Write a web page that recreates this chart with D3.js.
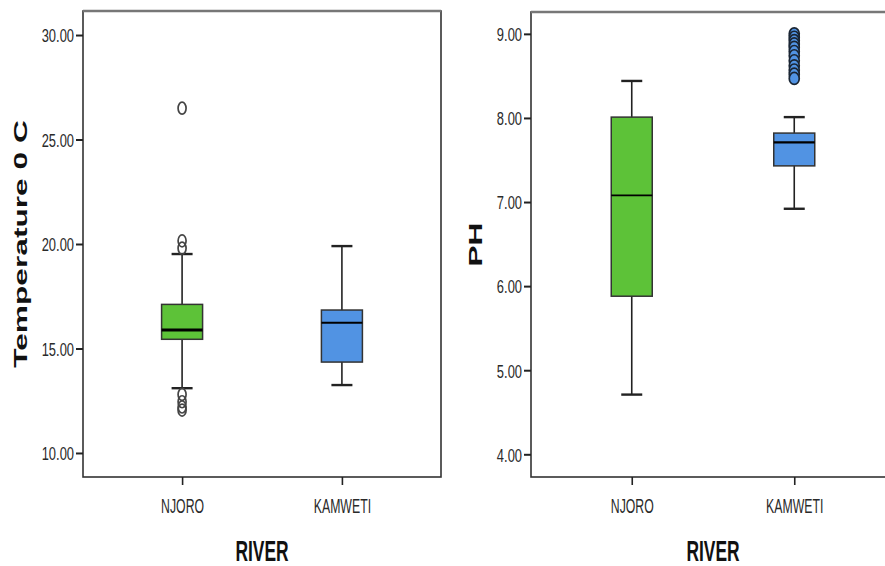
<!DOCTYPE html>
<html>
<head>
<meta charset="utf-8">
<script src="https://cdn.jsdelivr.net/npm/d3@7"></script>
<style>
  body { margin: 0; background: #fff; }
  svg { display: block; }
</style>
</head>
<body>
<div id="chart"></div>
<script>
const rivers = ['NJORO', 'KAMWETI'];

// temperature box stats per river
const tempLow = [13.1, 13.25];
const tempQ1 = [15.44, 14.35];
const tempMedian = [15.89, 16.23];
const tempQ3 = [17.11, 16.84];
const tempHigh = [19.52, 19.9];
const tempOutliers = [[26.5, 20.15, 19.8, 12.8, 12.45, 12.2, 12.05], []];
const tempTicks = [10, 15, 20, 25, 30];

// pH box stats per river
const phLow = [4.71, 6.92];
const phQ1 = [5.88, 7.43];
const phMedian = [7.08, 7.71];
const phQ3 = [8.01, 7.82];
const phHigh = [8.44, 8.01];
const phOutliers = [[], [9.0, 8.96, 8.92, 8.88, 8.84, 8.79, 8.74, 8.68, 8.62, 8.57, 8.52, 8.47]];
const phTicks = [4, 5, 6, 7, 8, 9];

const boxColors = ['#5DC238', '#5193E3'];

const width = 885, height = 566;
const FONT = 'Liberation Sans, Arial, sans-serif';
// the source picture is squashed sideways, so all text gets narrowed
const SQUASH = 0.6;

const svg = d3.select('#chart')
    .append('svg')
    .attr('width', width)
    .attr('height', height);

function narrow(sel, sx) {
    sel.each(function() {
        const t = d3.select(this);
        const x = +t.attr('x') || 0;
        t.attr('x', x / sx).attr('transform', `scale(${sx},1)`);
    });
}

function drawPanel(opts) {
    const { left, right, top, bottom, domain, ticks, low, q1, med, q3, high, outliers, filledOutliers, yLabel, yLabelX, medWidth } = opts;

    const g = svg.append('g');

    const y = d3.scaleLinear().domain(domain).range([bottom, top]);
    const x = d3.scalePoint().domain(rivers).range([left, right]).padding(0.62);
    const boxW = 41, capW = 21;

    // frame
    g.append('rect')
        .attr('x', left).attr('y', top)
        .attr('width', right - left).attr('height', bottom - top)
        .attr('fill', 'none')
        .attr('stroke', '#333')
        .attr('stroke-width', 1.6);
    g.append('line')
        .attr('x1', left).attr('x2', right)
        .attr('y1', top).attr('y2', top)
        .attr('stroke', '#777')
        .attr('stroke-width', 2.6);

    // y axis
    const yAxis = g.append('g')
        .attr('transform', `translate(${left},0)`)
        .call(d3.axisLeft(y).tickValues(ticks).tickSize(7).tickPadding(2).tickFormat(d3.format('.2f')));
    yAxis.select('.domain').remove();
    yAxis.selectAll('.tick line').attr('stroke', '#222').attr('stroke-width', 2);
    yAxis.selectAll('.tick text')
        .attr('font-family', FONT)
        .attr('font-size', 19)
        .attr('fill', '#2a2a2a')
        .attr('dy', '0.36em')
        .call(narrow, 0.68);

    // x axis
    const xAxis = g.append('g')
        .attr('transform', `translate(0,${bottom})`)
        .call(d3.axisBottom(x).tickSize(8));
    xAxis.select('.domain').remove();
    xAxis.selectAll('.tick line').attr('stroke', '#222').attr('stroke-width', 1.6);
    xAxis.selectAll('.tick text')
        .attr('font-family', FONT)
        .attr('font-size', 21)
        .attr('fill', '#2a2a2a')
        .attr('y', 36)
        .attr('dy', 0)
        .call(narrow, 0.585);

    rivers.forEach((r, i) => {
        const cx = x(r);
        const bg = g.append('g');

        // whisker
        bg.append('line')
            .attr('x1', cx).attr('x2', cx)
            .attr('y1', y(high[i])).attr('y2', y(low[i]))
            .attr('stroke', '#222').attr('stroke-width', 1.6);
        [high[i], low[i]].forEach(v => {
            bg.append('line')
                .attr('x1', cx - capW / 2).attr('x2', cx + capW / 2)
                .attr('y1', y(v)).attr('y2', y(v))
                .attr('stroke', '#222').attr('stroke-width', 2.4);
        });

        // box
        bg.append('rect')
            .attr('x', cx - boxW / 2).attr('y', y(q3[i]))
            .attr('width', boxW).attr('height', y(q1[i]) - y(q3[i]))
            .attr('fill', boxColors[i])
            .attr('stroke', '#333').attr('stroke-width', 1.5);

        bg.append('line')
            .attr('x1', cx - boxW / 2).attr('x2', cx + boxW / 2)
            .attr('y1', y(med[i])).attr('y2', y(med[i]))
            .attr('stroke', '#000').attr('stroke-width', medWidth[i]);

        // outliers (drawn as tall ellipses, like the squashed source)
        bg.selectAll('ellipse')
            .data(outliers[i])
            .enter().append('ellipse')
            .attr('cx', cx).attr('cy', d => y(d))
            .attr('rx', filledOutliers ? 5 : 4)
            .attr('ry', 6)
            .attr('fill', filledOutliers ? boxColors[i] : 'none')
            .attr('stroke', filledOutliers ? '#1a2533' : '#444')
            .attr('stroke-width', 1.7);
    });

    // y label, rotated and stretched along its length
    g.append('text')
        .attr('transform', `translate(${yLabelX},${(top + bottom) / 2}) rotate(-90) scale(${1 / SQUASH},1)`)
        .attr('text-anchor', 'middle')
        .attr('font-family', FONT)
        .attr('font-weight', 'bold')
        .attr('font-size', 19)
        .attr('fill', '#111')
        .text(yLabel);

    // x label
    g.append('text')
        .attr('transform', `translate(${(left + right) / 2},561) scale(${SQUASH},1)`)
        .attr('text-anchor', 'middle')
        .attr('font-family', FONT)
        .attr('font-weight', 'bold')
        .attr('font-size', 29)
        .attr('fill', '#111')
        .text('RIVER');
}

drawPanel({
    left: 83, right: 441, top: 11, bottom: 477,
    domain: [8.85, 31.15], ticks: tempTicks,
    low: tempLow, q1: tempQ1, med: tempMedian, q3: tempQ3, high: tempHigh,
    outliers: tempOutliers, filledOutliers: false,
    yLabel: 'Temperature 0 C', yLabelX: 27, medWidth: [3, 2]
});

drawPanel({
    left: 531, right: 895, top: 12, bottom: 477,
    domain: [3.73, 9.26], ticks: phTicks,
    low: phLow, q1: phQ1, med: phMedian, q3: phQ3, high: phHigh,
    outliers: phOutliers, filledOutliers: true,
    yLabel: 'PH', yLabelX: 482, medWidth: [1.8, 2.4]
});
</script>
</body>
</html>
